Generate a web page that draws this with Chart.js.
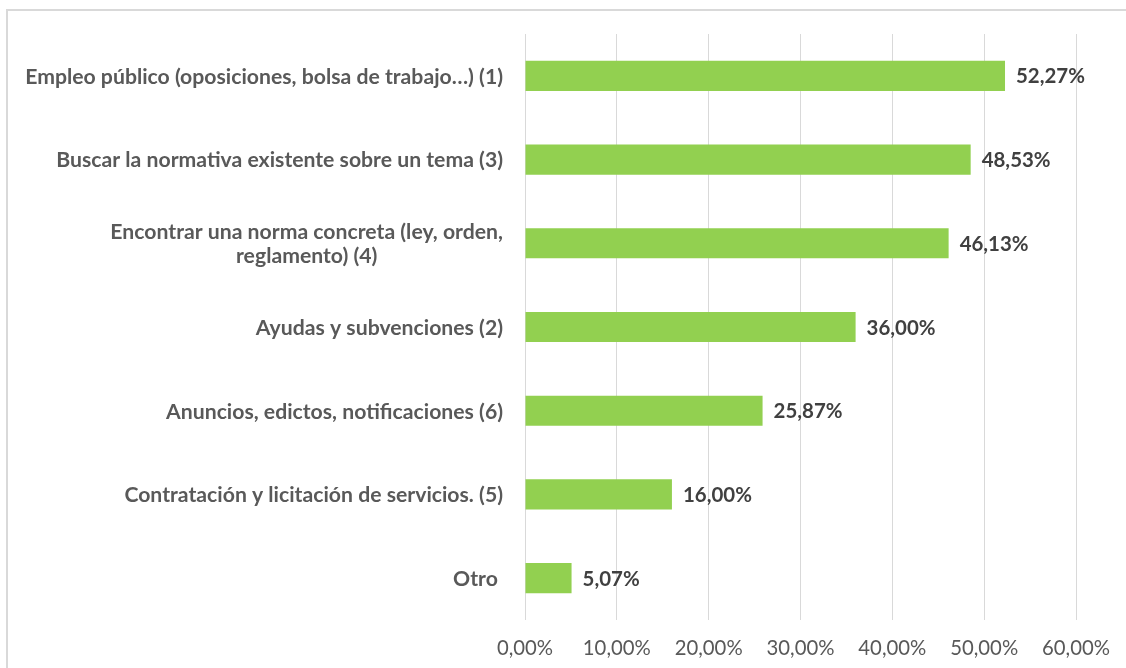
<!DOCTYPE html>
<html><head><meta charset="utf-8">
<script src="https://cdn.jsdelivr.net/npm/chart.js@4/dist/chart.umd.min.js"></script>
<style>
html,body{margin:0;padding:0;background:#fff;}
#wrap{position:relative;width:1126px;height:668px;overflow:hidden;background:#fff;}
#frame{position:absolute;left:6px;top:9px;width:1200px;height:700px;border-left:2px solid #d9d9d9;border-top:2px solid #d9d9d9;box-sizing:border-box;}
canvas{position:absolute;left:0;top:0;}
</style></head>
<body><div id="wrap"><div id="frame"></div><canvas id="c" width="1126" height="668"></canvas></div>
<script>
const categories = [
  "Empleo público (oposiciones, bolsa de trabajo…) (1)",
  "Buscar la normativa existente sobre un tema (3)",
  ["Encontrar una norma concreta (ley, orden,", "reglamento) (4)"],
  "Ayudas y subvenciones (2)",
  "Anuncios, edictos, notificaciones (6)",
  "Contratación y licitación de servicios. (5)",
  "Otro "
];
const values = [52.27, 48.53, 46.13, 36.00, 25.87, 16.00, 5.07];
const xTicks = [0, 10, 20, 30, 40, 50, 60];

const FAMILY = 'Lato, "Open Sans", sans-serif';
function fmt(v){ return v.toFixed(2).replace('.', ',') + '%'; }

function fitSize(text, weight, target){
  const m = document.createElement('canvas').getContext('2d');
  m.font = weight + ' 100px ' + FAMILY;
  return 100 * target / m.measureText(text).width;
}

function build(){
  const catSize = fitSize(categories[0], 'bold', 478);
  const valSize = fitSize(fmt(values[0]), 'bold', 69);
  const tickSize = fitSize(fmt(10), 'normal', 68);

  const valueLabels = {
    id: 'valueLabels',
    afterDatasetsDraw(chart){
      const ctx = chart.ctx;
      const meta = chart.getDatasetMeta(0);
      ctx.save();
      ctx.font = 'bold ' + valSize + 'px ' + FAMILY;
      ctx.fillStyle = '#404040';
      ctx.textAlign = 'left';
      ctx.textBaseline = 'middle';
      meta.data.forEach((bar, i) => {
        ctx.fillText(fmt(values[i]), bar.x + 11, bar.y + 1);
      });
      ctx.restore();
    }
  };

  const catLabels = {
    id: 'catLabels',
    afterDraw(chart){
      const ctx = chart.ctx;
      const ys = chart.scales.y;
      const right = chart.chartArea.left - 22;
      ctx.save();
      ctx.font = 'bold ' + catSize + 'px ' + FAMILY;
      ctx.fillStyle = '#595959';
      ctx.textBaseline = 'middle';
      categories.forEach((lab, i) => {
        const y = ys.getPixelForValue(i);
        const lines = Array.isArray(lab) ? lab : [lab];
        if (lines.length === 1) {
          ctx.textAlign = 'right';
          ctx.fillText(lines[0], right, y + 1);
        } else {
          const w = Math.max(...lines.map(l => ctx.measureText(l).width));
          ctx.textAlign = 'center';
          const lh = 24;
          lines.forEach((l, j) => {
            ctx.fillText(l, right - w / 2, y + 1 + (j - (lines.length - 1) / 2) * lh);
          });
        }
      });
      ctx.restore();
    }
  };

  new Chart(document.getElementById('c'), {
    type: 'bar',
    data: {
      labels: categories,
      datasets: [{
        data: values,
        backgroundColor: '#92D050',
        borderWidth: 0,
        barPercentage: 0.36,
        categoryPercentage: 1
      }]
    },
    options: {
      indexAxis: 'y',
      responsive: false,
      animation: false,
      devicePixelRatio: 1,
      layout: { padding: { top: 34, right: 50, bottom: 0, left: 0 } },
      plugins: { legend: { display: false }, tooltip: { enabled: false } },
      scales: {
        x: {
          min: 0, max: 60,
          afterBuildTicks(scale){ scale.ticks = xTicks.map(v => ({ value: v })); },
          afterFit(scale){ scale.height = 48; },
          grid: { color: '#d9d9d9', lineWidth: 1, drawTicks: false },
          border: { display: false },
          ticks: {
            padding: 16,
            color: '#595959',
            font: { family: FAMILY, size: tickSize },
            callback: (v) => fmt(v)
          }
        },
        y: {
          afterFit(scale){ scale.width = 525; },
          grid: { display: false },
          border: { display: false },
          ticks: { display: false }
        }
      }
    },
    plugins: [valueLabels, catLabels]
  });
}

Promise.all([
  document.fonts.load('bold 16px Lato'),
  document.fonts.load('16px Lato')
]).then(build, build);
</script>
</body></html>
